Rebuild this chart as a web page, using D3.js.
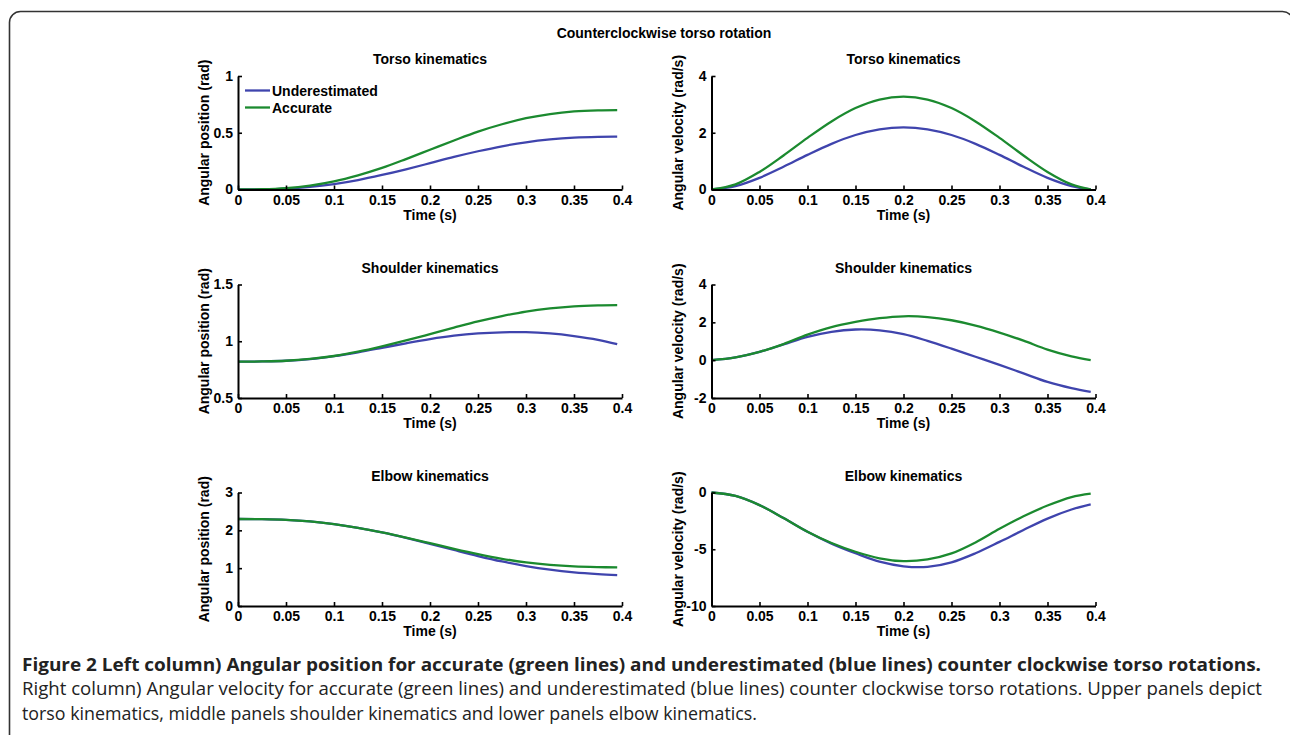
<!DOCTYPE html>
<html>
<head>
<meta charset="utf-8">
<script src="https://cdn.jsdelivr.net/npm/d3@7"></script>
<style>
  html, body { margin: 0; padding: 0; background: #fff; }
  svg { display: block; }
  .ax text { font-family: "Liberation Sans", Arial, sans-serif; font-weight: bold; font-size: 14px; fill: #000; }
  .lbl { font-family: "Liberation Sans", Arial, sans-serif; font-weight: bold; font-size: 14px; fill: #000; }
  .cap { font-family: "Open Sans", sans-serif; font-size: 18px; fill: #222; }
</style>
</head>
<body>
<svg id="fig" width="1290" height="735"></svg>
<script>
// Sample times (s)
const time = [0, 0.025, 0.05, 0.075, 0.1, 0.125, 0.15, 0.175, 0.2, 0.225, 0.25, 0.275, 0.3, 0.325, 0.35, 0.375, 0.395];

// Torso
const torsoPosUnder = [0, 0.0013, 0.008, 0.023, 0.048, 0.083, 0.128, 0.178, 0.232, 0.287, 0.337, 0.381, 0.416, 0.441, 0.457, 0.464, 0.465];
const torsoPosAcc   = [0, 0.002, 0.012, 0.035, 0.072, 0.125, 0.19, 0.268, 0.35, 0.432, 0.51, 0.575, 0.628, 0.665, 0.688, 0.698, 0.70];
const torsoVelUnder = [0, 0.12, 0.41, 0.8, 1.22, 1.61, 1.92, 2.12, 2.19, 2.12, 1.92, 1.61, 1.22, 0.8, 0.41, 0.12, 0];
const torsoVelAcc   = [0, 0.18, 0.62, 1.2, 1.82, 2.4, 2.87, 3.17, 3.27, 3.17, 2.87, 2.4, 1.82, 1.2, 0.62, 0.18, 0];

// Shoulder
const shoulderPosUnder = [0.82, 0.822, 0.828, 0.843, 0.869, 0.903, 0.942, 0.982, 1.019, 1.049, 1.069, 1.079, 1.08, 1.069, 1.046, 1.013, 0.974];
const shoulderPosAcc   = [0.82, 0.822, 0.828, 0.844, 0.87, 0.908, 0.955, 1.007, 1.063, 1.12, 1.175, 1.222, 1.262, 1.29, 1.308, 1.316, 1.318];
const shoulderVelUnder = [0, 0.15, 0.44, 0.83, 1.23, 1.5, 1.62, 1.58, 1.38, 1.02, 0.61, 0.18, -0.25, -0.7, -1.15, -1.48, -1.68];
const shoulderVelAcc   = [0, 0.15, 0.44, 0.85, 1.35, 1.75, 2.02, 2.22, 2.32, 2.28, 2.11, 1.83, 1.46, 1.03, 0.56, 0.2, 0];

// Elbow
const elbowPosUnder = [2.3, 2.296, 2.279, 2.237, 2.165, 2.066, 1.943, 1.80, 1.643, 1.48, 1.321, 1.177, 1.056, 0.96, 0.89, 0.843, 0.817];
const elbowPosAcc   = [2.3, 2.296, 2.279, 2.237, 2.165, 2.066, 1.945, 1.808, 1.66, 1.51, 1.37, 1.248, 1.153, 1.087, 1.046, 1.027, 1.02];
const elbowVelUnder = [0, -0.3, -1.11, -2.25, -3.46, -4.5, -5.35, -6.1, -6.5, -6.55, -6.15, -5.35, -4.35, -3.3, -2.3, -1.5, -1.05];
const elbowVelAcc   = [0, -0.3, -1.11, -2.25, -3.46, -4.45, -5.22, -5.8, -6.05, -5.9, -5.37, -4.4, -3.2, -2.1, -1.15, -0.4, -0.1];

// Axis ticks
const xTicks = [0, 0.05, 0.1, 0.15, 0.2, 0.25, 0.3, 0.35, 0.4];
const posLabel = "Angular position (rad)";
const velLabel = "Angular velocity (rad/s)";
const seriesNames = ["Underestimated", "Accurate"];
const colors = {under: "#3f44ad", acc: "#1b8a2f"};

const panels = [
  {row: 0, col: 0, title: "Torso kinematics",    ylabel: posLabel, domain: [0, 1],     ticks: [0, 0.5, 1],      under: torsoPosUnder,    acc: torsoPosAcc, legend: true},
  {row: 0, col: 1, title: "Torso kinematics",    ylabel: velLabel, domain: [0, 4],     ticks: [0, 2, 4],        under: torsoVelUnder,    acc: torsoVelAcc},
  {row: 1, col: 0, title: "Shoulder kinematics", ylabel: posLabel, domain: [0.5, 1.5], ticks: [0.5, 1, 1.5],    under: shoulderPosUnder, acc: shoulderPosAcc},
  {row: 1, col: 1, title: "Shoulder kinematics", ylabel: velLabel, domain: [-2, 4],    ticks: [-2, 0, 2, 4],    under: shoulderVelUnder, acc: shoulderVelAcc},
  {row: 2, col: 0, title: "Elbow kinematics",    ylabel: posLabel, domain: [0, 3],     ticks: [0, 1, 2, 3],     under: elbowPosUnder,    acc: elbowPosAcc},
  {row: 2, col: 1, title: "Elbow kinematics",    ylabel: velLabel, domain: [-10, 0],   ticks: [-10, -5, 0],     under: elbowVelUnder,    acc: elbowVelAcc}
];

const svg = d3.select("#fig");

// Rounded frame around the figure
svg.append("rect")
  .attr("x", 9.5).attr("y", 11.5)
  .attr("width", 1284).attr("height", 760)
  .attr("rx", 11).attr("ry", 11)
  .attr("fill", "none").attr("stroke", "#333").attr("stroke-width", 1.6);

// Overall title
svg.append("text").attr("class", "lbl")
  .attr("x", 664).attr("y", 38).attr("text-anchor", "middle")
  .text("Counterclockwise torso rotation");

const colX = [238, 711.5];
const rowY = [76, 284.5, 492.5];
const pw = 384, ph = 113.5;
const fmt = d => String(d);

panels.forEach(p => {
  const x0 = colX[p.col], y0 = rowY[p.row];
  const g = svg.append("g").attr("transform", `translate(${x0},${y0})`);
  const x = d3.scaleLinear().domain([0, 0.4]).range([0, pw]);
  const y = d3.scaleLinear().domain(p.domain).range([ph, 0]);

  // Panel title
  g.append("text").attr("class", "lbl")
    .attr("x", pw / 2).attr("y", -12).attr("text-anchor", "middle")
    .text(p.title);

  // Data lines
  const line = d3.line()
    .x((d, i) => x(time[i]))
    .y(d => y(d))
    .curve(d3.curveCatmullRom.alpha(0.5));
  [["under", p.under], ["acc", p.acc]].forEach(([k, vals]) => {
    g.append("path").datum(vals)
      .attr("d", line)
      .attr("fill", "none")
      .attr("stroke", colors[k])
      .attr("stroke-width", 2.3)
      .attr("stroke-linejoin", "round");
  });

  // X axis, ticks pointing inward
  const xa = g.append("g").attr("class", "ax").attr("transform", `translate(0,${ph})`)
    .call(d3.axisBottom(x).tickValues(xTicks).tickFormat(fmt).tickSizeInner(-4).tickSizeOuter(0));
  xa.select(".domain").attr("stroke", "#000").attr("stroke-width", 2);
  xa.selectAll(".tick line").attr("stroke", "#000").attr("stroke-width", 1.6);
  xa.selectAll(".tick text").attr("dy", null).attr("y", 15);

  // Y axis, ticks pointing inward
  const ya = g.append("g").attr("class", "ax")
    .call(d3.axisLeft(y).tickValues(p.ticks).tickFormat(fmt).tickSizeInner(-4).tickSizeOuter(0));
  ya.select(".domain").attr("stroke", "#000").attr("stroke-width", 2);
  ya.selectAll(".tick line").attr("stroke", "#000").attr("stroke-width", 1.6);
  ya.selectAll(".tick text").attr("x", -5);

  // Axis titles
  g.append("text").attr("class", "lbl")
    .attr("x", pw / 2).attr("y", ph + 30).attr("text-anchor", "middle")
    .text("Time (s)");
  g.append("text").attr("class", "lbl")
    .attr("transform", `translate(-29,${ph / 2}) rotate(-90)`)
    .attr("text-anchor", "middle")
    .text(p.ylabel);

  // Legend
  if (p.legend) {
    [["under", seriesNames[0], 14.5], ["acc", seriesNames[1], 31.5]].forEach(([k, name, ly]) => {
      g.append("line").attr("x1", 7).attr("x2", 32).attr("y1", ly).attr("y2", ly)
        .attr("stroke", colors[k]).attr("stroke-width", 2.3);
      g.append("text").attr("class", "lbl").attr("x", 34).attr("y", ly + 5).text(name);
    });
  }
});

// Caption
const cap = svg.append("g").attr("class", "cap");
cap.append("text").attr("x", 22).attr("y", 670.5)
  .attr("textLength", 1239).attr("lengthAdjust", "spacingAndGlyphs")
  .style("font-weight", "bold")
  .text("Figure 2 Left column) Angular position for accurate (green lines) and underestimated (blue lines) counter clockwise torso rotations.");
cap.append("text").attr("x", 22).attr("y", 695)
  .attr("textLength", 1240).attr("lengthAdjust", "spacingAndGlyphs")
  .text("Right column) Angular velocity for accurate (green lines) and underestimated (blue lines) counter clockwise torso rotations. Upper panels depict");
cap.append("text").attr("x", 22).attr("y", 719.5)
  .attr("textLength", 735).attr("lengthAdjust", "spacingAndGlyphs")
  .text("torso kinematics, middle panels shoulder kinematics and lower panels elbow kinematics.");
</script>
</body>
</html>
